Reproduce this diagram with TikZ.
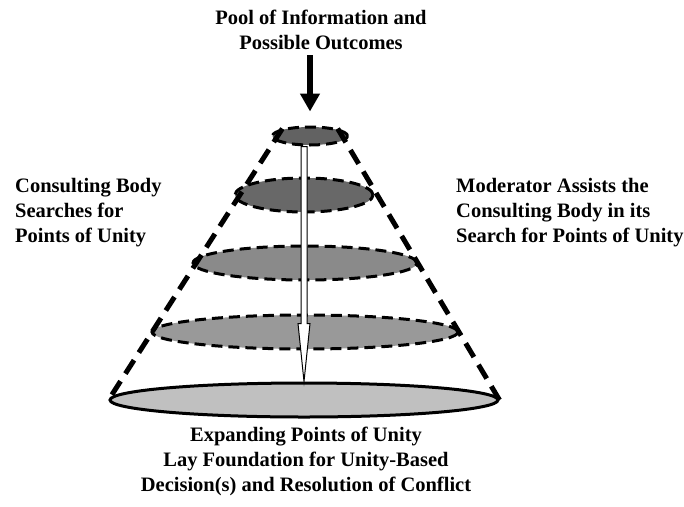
\documentclass[tikz,border=0pt]{standalone}
\usepackage{fontspec}
\setmainfont{Liberation Serif}
\usetikzlibrary{shapes.geometric,calc,arrows.meta}
\definecolor{shadeA}{HTML}{626262}
\definecolor{shadeB}{HTML}{686868}
\definecolor{shadeC}{HTML}{8A8A8A}
\definecolor{shadeD}{HTML}{999999}
\definecolor{shadeE}{HTML}{C0C0C0}
\begin{document}
\begin{tikzpicture}[x=1pt,y=-1pt,
  txt/.style={font=\fontsize{20.5}{25}\selectfont\bfseries, inner sep=0pt},
  disc/.style={ellipse, draw, line width=3pt, dash pattern=on 11pt off 6pt,
    inner sep=0pt, minimum height=34pt},
  rim/.style={line width=5pt, dash pattern=on 16pt off 9pt}]
\useasboundingbox (0,0) rectangle (684,506);

% stacked cross-sections of the cone
\node[disc, fill=shadeA, minimum width=75pt, minimum height=18pt] (d1) at (310,136) {};
\node[disc, fill=shadeB, minimum width=138pt] (d2) at (304,195) {};
\node[disc, fill=shadeC, minimum width=224pt] (d3) at (305,263) {};
\node[disc, fill=shadeD, minimum width=306pt] (d4) at (305,332) {};
\node[ellipse, draw, solid, line width=3pt, fill=shadeE, inner sep=0pt,
  minimum width=388pt, minimum height=34pt] (base) at (304,400) {};

% sides of the cone
\draw[rim] (d1.165) -- (base.west);
\draw[rim] (d1.15) -- (base.east);

% hollow arrow down the axis
\draw[fill=white, line width=1pt, line join=miter]
  let \p1=(d1.south -| base.north), \p2=(base.north) in
  (\x1-3pt,\y1) -- (\x1+3pt,\y1) -- (\x1+3pt,\y2+58pt) -- (\x1+6pt,\y2+58pt)
  -- (\x2,\y2) -- (\x1-6pt,\y2+58pt) -- (\x1-3pt,\y2+58pt) -- cycle;

% labels
\node[txt, align=center] (title) at (321,30) {Pool of Information and\\Possible Outcomes};
\node[txt, align=left, anchor=west] (left) at (15,213) {Consulting Body\\Searches for\\Points of Unity};
\node[txt, align=left, anchor=west] (right) at (456,213) {Moderator Assists the\\Consulting Body in its\\Search for Points of Unity};
\node[txt, align=center] (bottom) at (306,461) {Expanding Points of Unity\\Lay Foundation for Unity-Based\\Decision(s) and Resolution of Conflict};

% information flowing into the top
\draw[line width=6pt, -{Triangle[width=19pt,length=18pt]}]
  ($(title.south -| d1.north)+(0,5)$) -- ($(d1.north)+(0,-14)$);
\end{tikzpicture}
\end{document}
